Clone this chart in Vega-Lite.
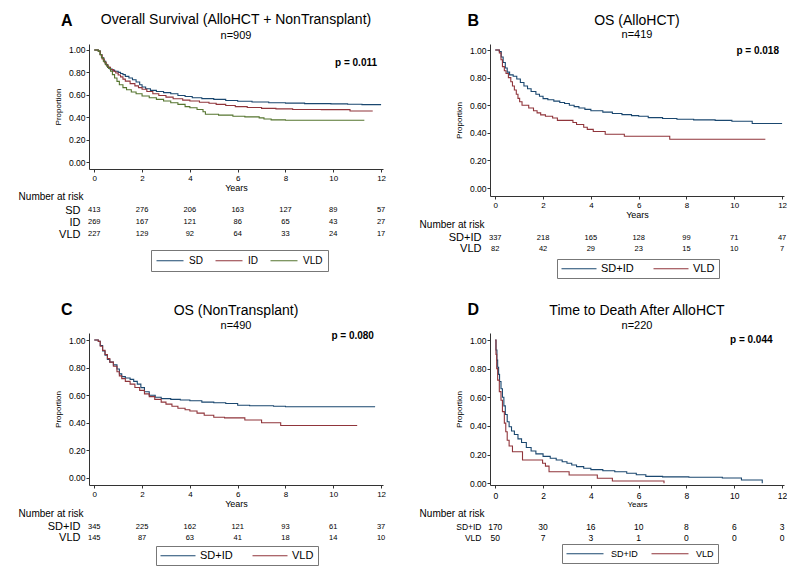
{
"$schema": "https://vega.github.io/schema/vega-lite/v6.json",
"padding": {"left": 18, "top": 12, "right": 0, "bottom": 0},
"background": "white",
"config": {
 "font": "Liberation Sans",
 "view": {"stroke": null},
 "axis": {"grid": false, "domainColor": "#333", "tickColor": "#333", "labelColor": "#000", "titleColor": "#000", "titleFontWeight": "normal", "labelFlush": false, "labelOverlap": false, "labelFont": "Liberation Sans", "titleFont": "Liberation Sans"},
 "title": {"color": "#000", "fontWeight": "normal", "font": "Liberation Sans"},
 "legend": {"labelColor": "#000", "labelFont": "Liberation Sans"},
 "text": {"color": "#000"}
},
"datasets": {
 "curvesA": [
  {"group":"SD","t":0,"s":1},{"group":"SD","t":0.17,"s":0.99},{"group":"SD","t":0.25,"s":0.96},{"group":"SD","t":0.32,"s":0.93},{"group":"SD","t":0.4,"s":0.9},{"group":"SD","t":0.48,"s":0.87},{"group":"SD","t":0.56,"s":0.845},{"group":"SD","t":0.65,"s":0.83},{"group":"SD","t":0.75,"s":0.82},{"group":"SD","t":0.85,"s":0.81},{"group":"SD","t":1.0,"s":0.8},{"group":"SD","t":1.1,"s":0.79},{"group":"SD","t":1.2,"s":0.78},{"group":"SD","t":1.3,"s":0.765},{"group":"SD","t":1.45,"s":0.75},{"group":"SD","t":1.6,"s":0.735},{"group":"SD","t":1.75,"s":0.715},{"group":"SD","t":1.9,"s":0.69},{"group":"SD","t":2.0,"s":0.67},{"group":"SD","t":2.15,"s":0.655},{"group":"SD","t":2.35,"s":0.64},{"group":"SD","t":2.6,"s":0.63},{"group":"SD","t":2.9,"s":0.62},{"group":"SD","t":3.2,"s":0.61},{"group":"SD","t":3.5,"s":0.595},{"group":"SD","t":3.8,"s":0.585},{"group":"SD","t":4.1,"s":0.575},{"group":"SD","t":4.5,"s":0.567},{"group":"SD","t":5.0,"s":0.56},{"group":"SD","t":5.5,"s":0.55},{"group":"SD","t":6.0,"s":0.543},{"group":"SD","t":6.6,"s":0.537},{"group":"SD","t":7.3,"s":0.53},{"group":"SD","t":8.0,"s":0.527},{"group":"SD","t":8.8,"s":0.522},{"group":"SD","t":9.9,"s":0.52},{"group":"SD","t":10.6,"s":0.516},{"group":"SD","t":11.2,"s":0.513},{"group":"SD","t":12.0,"s":0.513},
  {"group":"ID","t":0,"s":1},{"group":"ID","t":0.17,"s":0.99},{"group":"ID","t":0.25,"s":0.955},{"group":"ID","t":0.33,"s":0.92},{"group":"ID","t":0.42,"s":0.89},{"group":"ID","t":0.5,"s":0.865},{"group":"ID","t":0.58,"s":0.845},{"group":"ID","t":0.68,"s":0.825},{"group":"ID","t":0.8,"s":0.81},{"group":"ID","t":0.9,"s":0.795},{"group":"ID","t":1.0,"s":0.777},{"group":"ID","t":1.1,"s":0.76},{"group":"ID","t":1.2,"s":0.74},{"group":"ID","t":1.3,"s":0.722},{"group":"ID","t":1.5,"s":0.7},{"group":"ID","t":1.7,"s":0.68},{"group":"ID","t":1.85,"s":0.665},{"group":"ID","t":2.0,"s":0.65},{"group":"ID","t":2.2,"s":0.63},{"group":"ID","t":2.45,"s":0.61},{"group":"ID","t":2.7,"s":0.595},{"group":"ID","t":3.0,"s":0.58},{"group":"ID","t":3.3,"s":0.565},{"group":"ID","t":3.7,"s":0.553},{"group":"ID","t":4.0,"s":0.546},{"group":"ID","t":4.4,"s":0.535},{"group":"ID","t":4.8,"s":0.525},{"group":"ID","t":5.1,"s":0.515},{"group":"ID","t":5.5,"s":0.505},{"group":"ID","t":5.9,"s":0.495},{"group":"ID","t":6.4,"s":0.488},{"group":"ID","t":7.0,"s":0.48},{"group":"ID","t":7.6,"s":0.475},{"group":"ID","t":8.3,"s":0.47},{"group":"ID","t":9.5,"s":0.469},{"group":"ID","t":10.7,"s":0.457},{"group":"ID","t":11.65,"s":0.457},
  {"group":"VLD","t":0,"s":1},{"group":"VLD","t":0.17,"s":0.99},{"group":"VLD","t":0.24,"s":0.96},{"group":"VLD","t":0.3,"s":0.93},{"group":"VLD","t":0.38,"s":0.9},{"group":"VLD","t":0.45,"s":0.875},{"group":"VLD","t":0.52,"s":0.855},{"group":"VLD","t":0.6,"s":0.835},{"group":"VLD","t":0.68,"s":0.81},{"group":"VLD","t":0.76,"s":0.78},{"group":"VLD","t":0.85,"s":0.75},{"group":"VLD","t":0.95,"s":0.72},{"group":"VLD","t":1.05,"s":0.69},{"group":"VLD","t":1.2,"s":0.665},{"group":"VLD","t":1.35,"s":0.645},{"group":"VLD","t":1.55,"s":0.625},{"group":"VLD","t":1.75,"s":0.61},{"group":"VLD","t":2.0,"s":0.59},{"group":"VLD","t":2.3,"s":0.575},{"group":"VLD","t":2.6,"s":0.56},{"group":"VLD","t":2.9,"s":0.545},{"group":"VLD","t":3.2,"s":0.53},{"group":"VLD","t":3.5,"s":0.515},{"group":"VLD","t":3.8,"s":0.495},{"group":"VLD","t":4.0,"s":0.485},{"group":"VLD","t":4.3,"s":0.47},{"group":"VLD","t":4.55,"s":0.45},{"group":"VLD","t":4.65,"s":0.427},{"group":"VLD","t":5.2,"s":0.42},{"group":"VLD","t":5.8,"s":0.41},{"group":"VLD","t":6.3,"s":0.404},{"group":"VLD","t":6.9,"s":0.395},{"group":"VLD","t":7.1,"s":0.385},{"group":"VLD","t":7.4,"s":0.377},{"group":"VLD","t":8.0,"s":0.374},{"group":"VLD","t":11.3,"s":0.374}
 ],
 "curvesB": [
  {"group":"SD+ID","t":0,"s":1},{"group":"SD+ID","t":0.17,"s":0.99},{"group":"SD+ID","t":0.25,"s":0.95},{"group":"SD+ID","t":0.33,"s":0.91},{"group":"SD+ID","t":0.42,"s":0.87},{"group":"SD+ID","t":0.5,"s":0.84},{"group":"SD+ID","t":0.6,"s":0.82},{"group":"SD+ID","t":0.75,"s":0.81},{"group":"SD+ID","t":0.9,"s":0.79},{"group":"SD+ID","t":1.05,"s":0.765},{"group":"SD+ID","t":1.2,"s":0.74},{"group":"SD+ID","t":1.35,"s":0.72},{"group":"SD+ID","t":1.5,"s":0.7},{"group":"SD+ID","t":1.7,"s":0.68},{"group":"SD+ID","t":1.85,"s":0.665},{"group":"SD+ID","t":2.0,"s":0.648},{"group":"SD+ID","t":2.2,"s":0.64},{"group":"SD+ID","t":2.45,"s":0.63},{"group":"SD+ID","t":2.7,"s":0.62},{"group":"SD+ID","t":2.9,"s":0.613},{"group":"SD+ID","t":3.1,"s":0.6},{"group":"SD+ID","t":3.3,"s":0.59},{"group":"SD+ID","t":3.5,"s":0.58},{"group":"SD+ID","t":3.75,"s":0.57},{"group":"SD+ID","t":4.0,"s":0.56},{"group":"SD+ID","t":4.5,"s":0.55},{"group":"SD+ID","t":4.9,"s":0.54},{"group":"SD+ID","t":5.3,"s":0.532},{"group":"SD+ID","t":5.7,"s":0.525},{"group":"SD+ID","t":6.0,"s":0.52},{"group":"SD+ID","t":6.4,"s":0.51},{"group":"SD+ID","t":7.0,"s":0.504},{"group":"SD+ID","t":7.6,"s":0.498},{"group":"SD+ID","t":8.3,"s":0.494},{"group":"SD+ID","t":9.2,"s":0.49},{"group":"SD+ID","t":9.9,"s":0.484},{"group":"SD+ID","t":10.75,"s":0.468},{"group":"SD+ID","t":12.0,"s":0.468},
  {"group":"VLD","t":0,"s":1},{"group":"VLD","t":0.17,"s":0.98},{"group":"VLD","t":0.24,"s":0.93},{"group":"VLD","t":0.3,"s":0.88},{"group":"VLD","t":0.38,"s":0.85},{"group":"VLD","t":0.45,"s":0.83},{"group":"VLD","t":0.55,"s":0.8},{"group":"VLD","t":0.65,"s":0.77},{"group":"VLD","t":0.72,"s":0.74},{"group":"VLD","t":0.8,"s":0.71},{"group":"VLD","t":0.88,"s":0.68},{"group":"VLD","t":0.95,"s":0.65},{"group":"VLD","t":1.02,"s":0.625},{"group":"VLD","t":1.12,"s":0.6},{"group":"VLD","t":1.4,"s":0.58},{"group":"VLD","t":1.6,"s":0.56},{"group":"VLD","t":1.75,"s":0.545},{"group":"VLD","t":1.9,"s":0.53},{"group":"VLD","t":2.1,"s":0.52},{"group":"VLD","t":2.4,"s":0.508},{"group":"VLD","t":2.6,"s":0.49},{"group":"VLD","t":3.25,"s":0.475},{"group":"VLD","t":3.4,"s":0.46},{"group":"VLD","t":3.7,"s":0.44},{"group":"VLD","t":3.85,"s":0.425},{"group":"VLD","t":4.1,"s":0.41},{"group":"VLD","t":4.6,"s":0.39},{"group":"VLD","t":5.4,"s":0.375},{"group":"VLD","t":7.3,"s":0.353},{"group":"VLD","t":11.3,"s":0.353}
 ],
 "curvesC": [
  {"group":"SD+ID","t":0,"s":1},{"group":"SD+ID","t":0.17,"s":0.99},{"group":"SD+ID","t":0.25,"s":0.96},{"group":"SD+ID","t":0.35,"s":0.92},{"group":"SD+ID","t":0.45,"s":0.89},{"group":"SD+ID","t":0.55,"s":0.86},{"group":"SD+ID","t":0.65,"s":0.84},{"group":"SD+ID","t":0.8,"s":0.82},{"group":"SD+ID","t":0.95,"s":0.79},{"group":"SD+ID","t":1.05,"s":0.755},{"group":"SD+ID","t":1.15,"s":0.735},{"group":"SD+ID","t":1.3,"s":0.725},{"group":"SD+ID","t":1.5,"s":0.715},{"group":"SD+ID","t":1.65,"s":0.7},{"group":"SD+ID","t":1.8,"s":0.68},{"group":"SD+ID","t":1.95,"s":0.655},{"group":"SD+ID","t":2.1,"s":0.625},{"group":"SD+ID","t":2.3,"s":0.6},{"group":"SD+ID","t":2.55,"s":0.585},{"group":"SD+ID","t":2.8,"s":0.575},{"group":"SD+ID","t":3.2,"s":0.57},{"group":"SD+ID","t":3.6,"s":0.565},{"group":"SD+ID","t":4.0,"s":0.56},{"group":"SD+ID","t":4.5,"s":0.55},{"group":"SD+ID","t":5.0,"s":0.545},{"group":"SD+ID","t":5.5,"s":0.54},{"group":"SD+ID","t":6.0,"s":0.527},{"group":"SD+ID","t":6.5,"s":0.524},{"group":"SD+ID","t":7.5,"s":0.52},{"group":"SD+ID","t":8.0,"s":0.516},{"group":"SD+ID","t":11.75,"s":0.516},
  {"group":"VLD","t":0,"s":1},{"group":"VLD","t":0.17,"s":0.99},{"group":"VLD","t":0.25,"s":0.955},{"group":"VLD","t":0.35,"s":0.925},{"group":"VLD","t":0.45,"s":0.895},{"group":"VLD","t":0.55,"s":0.865},{"group":"VLD","t":0.65,"s":0.84},{"group":"VLD","t":0.8,"s":0.81},{"group":"VLD","t":0.95,"s":0.77},{"group":"VLD","t":1.05,"s":0.74},{"group":"VLD","t":1.15,"s":0.72},{"group":"VLD","t":1.3,"s":0.7},{"group":"VLD","t":1.5,"s":0.68},{"group":"VLD","t":1.7,"s":0.656},{"group":"VLD","t":1.9,"s":0.635},{"group":"VLD","t":2.1,"s":0.61},{"group":"VLD","t":2.3,"s":0.59},{"group":"VLD","t":2.53,"s":0.57},{"group":"VLD","t":2.8,"s":0.55},{"group":"VLD","t":3.0,"s":0.535},{"group":"VLD","t":3.25,"s":0.52},{"group":"VLD","t":3.5,"s":0.505},{"group":"VLD","t":3.8,"s":0.495},{"group":"VLD","t":4.0,"s":0.485},{"group":"VLD","t":4.3,"s":0.47},{"group":"VLD","t":4.6,"s":0.455},{"group":"VLD","t":5.0,"s":0.44},{"group":"VLD","t":5.45,"s":0.436},{"group":"VLD","t":6.3,"s":0.42},{"group":"VLD","t":7.0,"s":0.4},{"group":"VLD","t":7.8,"s":0.38},{"group":"VLD","t":11.0,"s":0.38}
 ],
 "curvesD": [
  {"group":"SD+ID","t":0,"s":1},{"group":"SD+ID","t":0.03,"s":0.93},{"group":"SD+ID","t":0.07,"s":0.86},{"group":"SD+ID","t":0.1,"s":0.81},{"group":"SD+ID","t":0.14,"s":0.76},{"group":"SD+ID","t":0.18,"s":0.71},{"group":"SD+ID","t":0.24,"s":0.66},{"group":"SD+ID","t":0.3,"s":0.6},{"group":"SD+ID","t":0.36,"s":0.54},{"group":"SD+ID","t":0.42,"s":0.48},{"group":"SD+ID","t":0.5,"s":0.43},{"group":"SD+ID","t":0.58,"s":0.395},{"group":"SD+ID","t":0.68,"s":0.365},{"group":"SD+ID","t":0.8,"s":0.34},{"group":"SD+ID","t":0.95,"s":0.31},{"group":"SD+ID","t":1.1,"s":0.285},{"group":"SD+ID","t":1.3,"s":0.25},{"group":"SD+ID","t":1.5,"s":0.225},{"group":"SD+ID","t":1.7,"s":0.205},{"group":"SD+ID","t":2.0,"s":0.188},{"group":"SD+ID","t":2.3,"s":0.175},{"group":"SD+ID","t":2.55,"s":0.163},{"group":"SD+ID","t":2.8,"s":0.15},{"group":"SD+ID","t":3.0,"s":0.14},{"group":"SD+ID","t":3.2,"s":0.128},{"group":"SD+ID","t":3.4,"s":0.116},{"group":"SD+ID","t":3.7,"s":0.105},{"group":"SD+ID","t":4.0,"s":0.095},{"group":"SD+ID","t":4.5,"s":0.087},{"group":"SD+ID","t":5.0,"s":0.08},{"group":"SD+ID","t":5.5,"s":0.07},{"group":"SD+ID","t":5.9,"s":0.06},{"group":"SD+ID","t":6.3,"s":0.048},{"group":"SD+ID","t":7.0,"s":0.045},{"group":"SD+ID","t":8.1,"s":0.042},{"group":"SD+ID","t":9.5,"s":0.037},{"group":"SD+ID","t":10.3,"s":0.023},{"group":"SD+ID","t":11.17,"s":0},
  {"group":"VLD","t":0,"s":1},{"group":"VLD","t":0.03,"s":0.9},{"group":"VLD","t":0.06,"s":0.8},{"group":"VLD","t":0.1,"s":0.72},{"group":"VLD","t":0.17,"s":0.64},{"group":"VLD","t":0.24,"s":0.58},{"group":"VLD","t":0.3,"s":0.5},{"group":"VLD","t":0.38,"s":0.42},{"group":"VLD","t":0.44,"s":0.36},{"group":"VLD","t":0.5,"s":0.3},{"group":"VLD","t":0.58,"s":0.26},{"group":"VLD","t":0.72,"s":0.22},{"group":"VLD","t":1.14,"s":0.163},{"group":"VLD","t":1.98,"s":0.14},{"group":"VLD","t":2.1,"s":0.12},{"group":"VLD","t":2.25,"s":0.08},{"group":"VLD","t":3.09,"s":0.058},{"group":"VLD","t":4.27,"s":0.035},{"group":"VLD","t":4.9,"s":0.016},{"group":"VLD","t":7.06,"s":0}
 ],
 "riskA": [
  {"group":"SD","t":0,"n":"413"},{"group":"SD","t":2,"n":"276"},{"group":"SD","t":4,"n":"206"},{"group":"SD","t":6,"n":"163"},{"group":"SD","t":8,"n":"127"},{"group":"SD","t":10,"n":"89"},{"group":"SD","t":12,"n":"57"},
  {"group":"ID","t":0,"n":"269"},{"group":"ID","t":2,"n":"167"},{"group":"ID","t":4,"n":"121"},{"group":"ID","t":6,"n":"86"},{"group":"ID","t":8,"n":"65"},{"group":"ID","t":10,"n":"43"},{"group":"ID","t":12,"n":"27"},
  {"group":"VLD","t":0,"n":"227"},{"group":"VLD","t":2,"n":"129"},{"group":"VLD","t":4,"n":"92"},{"group":"VLD","t":6,"n":"64"},{"group":"VLD","t":8,"n":"33"},{"group":"VLD","t":10,"n":"24"},{"group":"VLD","t":12,"n":"17"}
 ],
 "riskB": [
  {"group":"SD+ID","t":0,"n":"337"},{"group":"SD+ID","t":2,"n":"218"},{"group":"SD+ID","t":4,"n":"165"},{"group":"SD+ID","t":6,"n":"128"},{"group":"SD+ID","t":8,"n":"99"},{"group":"SD+ID","t":10,"n":"71"},{"group":"SD+ID","t":12,"n":"47"},
  {"group":"VLD","t":0,"n":"82"},{"group":"VLD","t":2,"n":"42"},{"group":"VLD","t":4,"n":"29"},{"group":"VLD","t":6,"n":"23"},{"group":"VLD","t":8,"n":"15"},{"group":"VLD","t":10,"n":"10"},{"group":"VLD","t":12,"n":"7"}
 ],
 "riskC": [
  {"group":"SD+ID","t":0,"n":"345"},{"group":"SD+ID","t":2,"n":"225"},{"group":"SD+ID","t":4,"n":"162"},{"group":"SD+ID","t":6,"n":"121"},{"group":"SD+ID","t":8,"n":"93"},{"group":"SD+ID","t":10,"n":"61"},{"group":"SD+ID","t":12,"n":"37"},
  {"group":"VLD","t":0,"n":"145"},{"group":"VLD","t":2,"n":"87"},{"group":"VLD","t":4,"n":"63"},{"group":"VLD","t":6,"n":"41"},{"group":"VLD","t":8,"n":"18"},{"group":"VLD","t":10,"n":"14"},{"group":"VLD","t":12,"n":"10"}
 ],
 "riskD": [
  {"group":"SD+ID","t":0,"n":"170"},{"group":"SD+ID","t":2,"n":"30"},{"group":"SD+ID","t":4,"n":"16"},{"group":"SD+ID","t":6,"n":"10"},{"group":"SD+ID","t":8,"n":"8"},{"group":"SD+ID","t":10,"n":"6"},{"group":"SD+ID","t":12,"n":"3"},
  {"group":"VLD","t":0,"n":"50"},{"group":"VLD","t":2,"n":"7"},{"group":"VLD","t":4,"n":"3"},{"group":"VLD","t":6,"n":"1"},{"group":"VLD","t":8,"n":"0"},{"group":"VLD","t":10,"n":"0"},{"group":"VLD","t":12,"n":"0"}
 ]
},
"columns": 2,
"spacing": {"row": 22, "column": 33},
"resolve": {"scale": {"color": "independent"}, "legend": {"color": "independent"}},
"concat": [
 {
  "resolve": {"scale": {"color": "independent"}, "legend": {"color": "independent"}},
  "spacing": 0,
  "vconcat": [
   {
    "width": 294, "height": 125,
    "layer": [
     {"data": {"name": "curvesA"}, "mark": {"type": "line", "interpolate": "step-after", "strokeWidth": 1.1},
      "encoding": {
       "x": {"field": "t", "type": "quantitative", "scale": {"domain": [-0.22, 12.08], "nice": false, "zero": false}, "axis": {"values": [0,2,4,6,8,10,12], "tickCount": 7, "format": "d", "title": "Years", "titleFontSize": 9, "labelFontSize": 8, "tickSize": 3, "labelPadding": 2, "titlePadding": 1, "labelOverlap": false}},
       "y": {"field": "s", "type": "quantitative", "scale": {"domain": [-0.06, 1.053], "nice": false, "zero": false}, "axis": {"values": [0,0.2,0.4,0.6,0.8,1], "tickCount": 6, "format": ".2f", "title": "Proportion", "titleFontSize": 8, "labelFontSize": 8.5, "tickSize": 3, "labelPadding": 1, "titlePadding": 6, "labelOverlap": false}},
       "color": {"field": "group", "type": "nominal", "scale": {"domain": ["SD","ID","VLD"], "range": ["#1a476f","#90353b","#55752f"]}, "legend": null}
      }},
     {"data": {"values": [{}]}, "mark": {"type": "text", "text": "p = 0.011", "fontWeight": "bold", "fontSize": 10, "align": "right", "baseline": "middle"}, "encoding": {"x": {"datum": 11.83}, "y": {"datum": 0.887}}},
     {"data": {"values": [{}]}, "mark": {"type": "text", "text": "A", "fontWeight": "bold", "fontSize": 16, "align": "left", "baseline": "alphabetic"}, "encoding": {"x": {"datum": -1.39}, "y": {"datum": 1.214}}},
     {"data": {"values": [{}]}, "mark": {"type": "text", "text": "Overall Survival (AlloHCT + NonTransplant)", "fontSize": 14, "align": "center", "baseline": "alphabetic"}, "encoding": {"x": {"datum": 5.93}, "y": {"datum": 1.227}}},
     {"data": {"values": [{}]}, "mark": {"type": "text", "text": "n=909", "fontSize": 11, "align": "center", "baseline": "alphabetic"}, "encoding": {"x": {"datum": 5.93}, "y": {"datum": 1.101}}}
    ]
   },
   {
    "width": 294, "height": 36,
    "title": {"text": "Number at risk", "anchor": "start", "frame": "group", "dx": -70.4, "fontSize": 10, "offset": 2},
    "data": {"name": "riskA"},
    "layer": [
     {"mark": {"type": "text", "fontSize": 7.5},
      "encoding": {
       "x": {"field": "t", "type": "quantitative", "scale": {"domain": [-0.22, 12.08], "nice": false, "zero": false}, "axis": null},
       "y": {"field": "group", "type": "nominal", "sort": ["SD","ID","VLD"], "axis": {"title": null, "domain": false, "ticks": false, "labelFontSize": 11, "labelPadding": 9}},
       "text": {"field": "n", "type": "nominal"}
      }},
     {"mark": {"type": "line", "opacity": 0},
      "encoding": {
       "x": {"field": "t", "type": "quantitative"},
       "y": {"field": "group", "type": "nominal", "sort": ["SD","ID","VLD"]},
       "color": {"field": "group", "type": "nominal", "scale": {"domain": ["SD","ID","VLD"], "range": ["#1a476f","#90353b","#55752f"]},
        "legend": {"title": null, "orient": "none", "legendX": 62, "legendY": 46, "direction": "horizontal", "columns": 3, "symbolType": "M-1,0H4.4", "symbolSize": 100, "symbolStrokeWidth": 1, "symbolOpacity": 1, "labelFontSize": 10, "labelOffset": 22, "columnPadding": 10, "rowPadding": 1, "padding": 5, "strokeColor": "#777", "fillColor": "white"}}
      }}
    ]
   }
  ]
 },
 {
  "resolve": {"scale": {"color": "independent"}, "legend": {"color": "independent"}},
  "spacing": 0,
  "vconcat": [
   {
    "width": 294, "height": 152,
    "layer": [
     {"data": {"name": "curvesB"}, "mark": {"type": "line", "interpolate": "step-after", "strokeWidth": 1.1},
      "encoding": {
       "x": {"field": "t", "type": "quantitative", "scale": {"domain": [-0.22, 12.08], "nice": false, "zero": false}, "axis": {"values": [0,2,4,6,8,10,12], "tickCount": 7, "format": "d", "title": "Years", "titleFontSize": 9, "labelFontSize": 8, "tickSize": 3, "labelPadding": 2, "titlePadding": 1, "labelOverlap": false}},
       "y": {"field": "s", "type": "quantitative", "scale": {"domain": [-0.058, 1.044], "nice": false, "zero": false}, "axis": {"values": [0,0.2,0.4,0.6,0.8,1], "tickCount": 6, "format": ".2f", "title": "Proportion", "titleFontSize": 8, "labelFontSize": 8.5, "tickSize": 3, "labelPadding": 1, "titlePadding": 6, "labelOverlap": false}},
       "color": {"field": "group", "type": "nominal", "scale": {"domain": ["SD+ID","VLD"], "range": ["#1a476f","#90353b"]}, "legend": null}
      }},
     {"data": {"values": [{}]}, "mark": {"type": "text", "text": "p = 0.018", "fontWeight": "bold", "fontSize": 10, "align": "right", "baseline": "middle"}, "encoding": {"x": {"datum": 11.87}, "y": {"datum": 0.995}}},
     {"data": {"values": [{}]}, "mark": {"type": "text", "text": "B", "fontWeight": "bold", "fontSize": 16, "align": "left", "baseline": "alphabetic"}, "encoding": {"x": {"datum": -1.16}, "y": {"datum": 1.176}}},
     {"data": {"values": [{}]}, "mark": {"type": "text", "text": "OS (AlloHCT)", "fontSize": 14, "align": "center", "baseline": "alphabetic"}, "encoding": {"x": {"datum": 5.93}, "y": {"datum": 1.184}}},
     {"data": {"values": [{}]}, "mark": {"type": "text", "text": "n=419", "fontSize": 11, "align": "center", "baseline": "alphabetic"}, "encoding": {"x": {"datum": 5.93}, "y": {"datum": 1.084}}}
    ]
   },
   {
    "width": 294, "height": 22,
    "title": {"text": "Number at risk", "anchor": "start", "frame": "group", "dx": -70.4, "fontSize": 10, "offset": 2},
    "data": {"name": "riskB"},
    "layer": [
     {"mark": {"type": "text", "fontSize": 7.5},
      "encoding": {
       "x": {"field": "t", "type": "quantitative", "scale": {"domain": [-0.22, 12.08], "nice": false, "zero": false}, "axis": null},
       "y": {"field": "group", "type": "nominal", "sort": ["SD+ID","VLD"], "axis": {"title": null, "domain": false, "ticks": false, "labelFontSize": 11, "labelPadding": 9}},
       "text": {"field": "n", "type": "nominal"}
      }},
     {"mark": {"type": "line", "opacity": 0},
      "encoding": {
       "x": {"field": "t", "type": "quantitative"},
       "y": {"field": "group", "type": "nominal", "sort": ["SD+ID","VLD"]},
       "color": {"field": "group", "type": "nominal", "scale": {"domain": ["SD+ID","VLD"], "range": ["#1a476f","#90353b"]},
        "legend": {"title": null, "orient": "none", "legendX": 67, "legendY": 27, "direction": "horizontal", "columns": 2, "symbolType": "M-1,0H6", "symbolSize": 100, "symbolStrokeWidth": 1, "symbolOpacity": 1, "labelFontSize": 11, "labelOffset": 29, "columnPadding": 17, "rowPadding": 1, "padding": 4, "strokeColor": "#777", "fillColor": "white"}}
      }}
    ]
   }
  ]
 },
 {
  "resolve": {"scale": {"color": "independent"}, "legend": {"color": "independent"}},
  "spacing": 0,
  "vconcat": [
   {
    "width": 294, "height": 152,
    "layer": [
     {"data": {"name": "curvesC"}, "mark": {"type": "line", "interpolate": "step-after", "strokeWidth": 1.1},
      "encoding": {
       "x": {"field": "t", "type": "quantitative", "scale": {"domain": [-0.22, 12.08], "nice": false, "zero": false}, "axis": {"values": [0,2,4,6,8,10,12], "tickCount": 7, "format": "d", "title": "Years", "titleFontSize": 9, "labelFontSize": 8, "tickSize": 3, "labelPadding": 2, "titlePadding": 1, "labelOverlap": false}},
       "y": {"field": "s", "type": "quantitative", "scale": {"domain": [-0.051, 1.051], "nice": false, "zero": false}, "axis": {"values": [0,0.2,0.4,0.6,0.8,1], "tickCount": 6, "format": ".2f", "title": "Proportion", "titleFontSize": 8, "labelFontSize": 8.5, "tickSize": 3, "labelPadding": 1, "titlePadding": 6, "labelOverlap": false}},
       "color": {"field": "group", "type": "nominal", "scale": {"domain": ["SD+ID","VLD"], "range": ["#1a476f","#90353b"]}, "legend": null}
      }},
     {"data": {"values": [{}]}, "mark": {"type": "text", "text": "p = 0.080", "fontWeight": "bold", "fontSize": 10, "align": "right", "baseline": "middle"}, "encoding": {"x": {"datum": 11.7}, "y": {"datum": 1.026}}},
     {"data": {"values": [{}]}, "mark": {"type": "text", "text": "C", "fontWeight": "bold", "fontSize": 16, "align": "left", "baseline": "alphabetic"}, "encoding": {"x": {"datum": -1.39}, "y": {"datum": 1.184}}},
     {"data": {"values": [{}]}, "mark": {"type": "text", "text": "OS (NonTransplant)", "fontSize": 14, "align": "center", "baseline": "alphabetic"}, "encoding": {"x": {"datum": 5.93}, "y": {"datum": 1.184}}},
     {"data": {"values": [{}]}, "mark": {"type": "text", "text": "n=490", "fontSize": 11, "align": "center", "baseline": "alphabetic"}, "encoding": {"x": {"datum": 5.93}, "y": {"datum": 1.082}}}
    ]
   },
   {
    "width": 294, "height": 22,
    "title": {"text": "Number at risk", "anchor": "start", "frame": "group", "dx": -70.4, "fontSize": 10, "offset": 2},
    "data": {"name": "riskC"},
    "layer": [
     {"mark": {"type": "text", "fontSize": 7.5},
      "encoding": {
       "x": {"field": "t", "type": "quantitative", "scale": {"domain": [-0.22, 12.08], "nice": false, "zero": false}, "axis": null},
       "y": {"field": "group", "type": "nominal", "sort": ["SD+ID","VLD"], "axis": {"title": null, "domain": false, "ticks": false, "labelFontSize": 11, "labelPadding": 9}},
       "text": {"field": "n", "type": "nominal"}
      }},
     {"mark": {"type": "line", "opacity": 0},
      "encoding": {
       "x": {"field": "t", "type": "quantitative"},
       "y": {"field": "group", "type": "nominal", "sort": ["SD+ID","VLD"]},
       "color": {"field": "group", "type": "nominal", "scale": {"domain": ["SD+ID","VLD"], "range": ["#1a476f","#90353b"]},
        "legend": {"title": null, "orient": "none", "legendX": 67, "legendY": 25, "direction": "horizontal", "columns": 2, "symbolType": "M-1,0H6", "symbolSize": 100, "symbolStrokeWidth": 1, "symbolOpacity": 1, "labelFontSize": 11, "labelOffset": 29, "columnPadding": 17, "rowPadding": 1, "padding": 4, "strokeColor": "#777", "fillColor": "white"}}
      }}
    ]
   }
  ]
 },
 {
  "resolve": {"scale": {"color": "independent"}, "legend": {"color": "independent"}},
  "spacing": 0,
  "vconcat": [
   {
    "width": 294, "height": 152,
    "layer": [
     {"data": {"name": "curvesD"}, "mark": {"type": "line", "interpolate": "step-after", "strokeWidth": 1.1},
      "encoding": {
       "x": {"field": "t", "type": "quantitative", "scale": {"domain": [-0.22, 12.08], "nice": false, "zero": false}, "axis": {"values": [0,2,4,6,8,10,12], "tickCount": 7, "format": "d", "title": "Years", "titleFontSize": 8, "labelFontSize": 8.5, "tickSize": 3, "labelPadding": 3, "titlePadding": 1, "labelOverlap": false}},
       "y": {"field": "s", "type": "quantitative", "scale": {"domain": [-0.012, 1.049], "nice": false, "zero": false}, "axis": {"values": [0,0.2,0.4,0.6,0.8,1], "tickCount": 6, "format": ".2f", "title": "Proportion", "titleFontSize": 8, "labelFontSize": 8.5, "tickSize": 3, "labelPadding": 1, "titlePadding": 6, "labelOverlap": false}},
       "color": {"field": "group", "type": "nominal", "scale": {"domain": ["SD+ID","VLD"], "range": ["#1a476f","#90353b"]}, "legend": null}
      }},
     {"data": {"values": [{}]}, "mark": {"type": "text", "text": "p = 0.044", "fontWeight": "bold", "fontSize": 10, "align": "right", "baseline": "middle"}, "encoding": {"x": {"datum": 11.6}, "y": {"datum": 1.0}}},
     {"data": {"values": [{}]}, "mark": {"type": "text", "text": "D", "fontWeight": "bold", "fontSize": 16, "align": "left", "baseline": "alphabetic"}, "encoding": {"x": {"datum": -1.16}, "y": {"datum": 1.175}}},
     {"data": {"values": [{}]}, "mark": {"type": "text", "text": "Time to Death After AlloHCT", "fontSize": 14, "align": "center", "baseline": "alphabetic"}, "encoding": {"x": {"datum": 5.93}, "y": {"datum": 1.174}}},
     {"data": {"values": [{}]}, "mark": {"type": "text", "text": "n=220", "fontSize": 11, "align": "center", "baseline": "alphabetic"}, "encoding": {"x": {"datum": 5.93}, "y": {"datum": 1.077}}}
    ]
   },
   {
    "width": 294, "height": 22,
    "title": {"text": "Number at risk", "anchor": "start", "frame": "group", "dx": -70.4, "fontSize": 10, "offset": 2},
    "data": {"name": "riskD"},
    "layer": [
     {"mark": {"type": "text", "fontSize": 8.5},
      "encoding": {
       "x": {"field": "t", "type": "quantitative", "scale": {"domain": [-0.22, 12.08], "nice": false, "zero": false}, "axis": null},
       "y": {"field": "group", "type": "nominal", "sort": ["SD+ID","VLD"], "axis": {"title": null, "domain": false, "ticks": false, "labelFontSize": 8.5, "labelPadding": 9}},
       "text": {"field": "n", "type": "nominal"}
      }},
     {"mark": {"type": "line", "opacity": 0},
      "encoding": {
       "x": {"field": "t", "type": "quantitative"},
       "y": {"field": "group", "type": "nominal", "sort": ["SD+ID","VLD"]},
       "color": {"field": "group", "type": "nominal", "scale": {"domain": ["SD+ID","VLD"], "range": ["#1a476f","#90353b"]},
        "legend": {"title": null, "orient": "none", "legendX": 72, "legendY": 23, "direction": "horizontal", "columns": 2, "symbolType": "M-1,0H6.4", "symbolSize": 100, "symbolStrokeWidth": 1, "symbolOpacity": 1, "labelFontSize": 9, "labelOffset": 34, "columnPadding": 11, "rowPadding": 1, "padding": 4, "strokeColor": "#777", "fillColor": "white"}}
      }}
    ]
   }
  ]
 }
]
}
